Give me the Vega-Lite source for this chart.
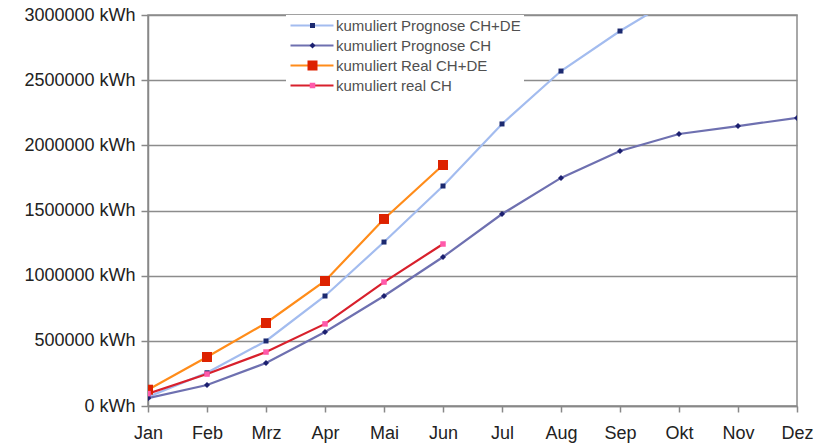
{
  "$schema": "https://vega.github.io/schema/vega-lite/v6.json",
  "width": 649,
  "height": 391,
  "autosize": {"type": "none"},
  "padding": {"left": 148, "top": 15, "right": 19, "bottom": 41},
  "background": "white",
  "config": {
    "view": {"stroke": "#8c8c8c", "strokeWidth": 1.5},
    "axis": {"labelFont": "Liberation Sans", "labelFontSize": 18, "labelColor": "#222", "domainColor": "#888", "tickColor": "#888", "domainWidth": 1.5, "tickWidth": 1.5}
  },
  "data": {
    "values": [
      {"month": "Jan", "series": "kumuliert Prognose CH+DE", "value": 70000},
      {"month": "Feb", "series": "kumuliert Prognose CH+DE", "value": 255000},
      {"month": "Mrz", "series": "kumuliert Prognose CH+DE", "value": 499000},
      {"month": "Apr", "series": "kumuliert Prognose CH+DE", "value": 844000},
      {"month": "Mai", "series": "kumuliert Prognose CH+DE", "value": 1258000},
      {"month": "Jun", "series": "kumuliert Prognose CH+DE", "value": 1688000},
      {"month": "Jul", "series": "kumuliert Prognose CH+DE", "value": 2164000},
      {"month": "Aug", "series": "kumuliert Prognose CH+DE", "value": 2570000},
      {"month": "Sep", "series": "kumuliert Prognose CH+DE", "value": 2877000},
      {"month": "Okt", "series": "kumuliert Prognose CH+DE", "value": 3150000},
      {"month": "Jan", "series": "kumuliert Prognose CH", "value": 60000},
      {"month": "Feb", "series": "kumuliert Prognose CH", "value": 161000},
      {"month": "Mrz", "series": "kumuliert Prognose CH", "value": 330000},
      {"month": "Apr", "series": "kumuliert Prognose CH", "value": 568000},
      {"month": "Mai", "series": "kumuliert Prognose CH", "value": 844000},
      {"month": "Jun", "series": "kumuliert Prognose CH", "value": 1143000},
      {"month": "Jul", "series": "kumuliert Prognose CH", "value": 1473000},
      {"month": "Aug", "series": "kumuliert Prognose CH", "value": 1750000},
      {"month": "Sep", "series": "kumuliert Prognose CH", "value": 1957000},
      {"month": "Okt", "series": "kumuliert Prognose CH", "value": 2087000},
      {"month": "Nov", "series": "kumuliert Prognose CH", "value": 2148000},
      {"month": "Dez", "series": "kumuliert Prognose CH", "value": 2210000},
      {"month": "Jan", "series": "kumuliert Real CH+DE", "value": 125000},
      {"month": "Feb", "series": "kumuliert Real CH+DE", "value": 376000},
      {"month": "Mrz", "series": "kumuliert Real CH+DE", "value": 637000},
      {"month": "Apr", "series": "kumuliert Real CH+DE", "value": 959000},
      {"month": "Mai", "series": "kumuliert Real CH+DE", "value": 1435000},
      {"month": "Jun", "series": "kumuliert Real CH+DE", "value": 1849000},
      {"month": "Jan", "series": "kumuliert real CH", "value": 95000},
      {"month": "Feb", "series": "kumuliert real CH", "value": 245000},
      {"month": "Mrz", "series": "kumuliert real CH", "value": 414000},
      {"month": "Apr", "series": "kumuliert real CH", "value": 630000},
      {"month": "Mai", "series": "kumuliert real CH", "value": 951000},
      {"month": "Jun", "series": "kumuliert real CH", "value": 1243000}
    ]
  },
  "encoding": {
    "x": {"field": "month", "type": "ordinal", "sort": ["Jan","Feb","Mrz","Apr","Mai","Jun","Jul","Aug","Sep","Okt","Nov","Dez"],
      "scale": {"type": "point", "padding": 0},
      "axis": {"title": null, "labelAngle": 0, "tickSize": 6, "labelPadding": 12, "grid": false}},
    "y": {"field": "value", "type": "quantitative",
      "scale": {"domain": [0, 3000000], "nice": false},
      "axis": {"title": null, "values": [0,500000,1000000,1500000,2000000,2500000,3000000], "format": "d", "labelExpr": "datum.label + ' kWh'",
        "tickSize": 7, "labelPadding": 6, "grid": true, "gridColor": "#8c8c8c", "gridWidth": 1.5}}
  },
  "layer": [
    {
      "mark": {"type": "line", "strokeWidth": 2.2, "clip": true},
      "encoding": {
        "color": {"field": "series", "type": "nominal", "sort": ["kumuliert Prognose CH+DE","kumuliert Prognose CH","kumuliert Real CH+DE","kumuliert real CH"],
          "scale": {"range": ["#a3bcef","#6e70b0","#ff8c1a","#d8202c"]},
          "legend": {"title": null, "orient": "none", "legendX": 138, "legendY": 0, "padding": 3, "fillColor": "white",
            "symbolType": "stroke", "symbolSize": 1849, "symbolStrokeWidth": 2.2, "rowPadding": 4, "clipHeight": 15,
            "labelFont": "Liberation Sans", "labelFontSize": 15, "labelColor": "#505050", "labelOffset": 1, "labelLimit": 400}}
      }
    },
    {
      "mark": {"type": "point", "filled": true, "opacity": 1, "strokeWidth": 0, "size": 100, "clip": true},
      "encoding": {
        "fill": {"field": "series", "type": "nominal",
          "scale": {"domain": ["kumuliert Prognose CH+DE","kumuliert Prognose CH","kumuliert Real CH+DE","kumuliert real CH"], "range": ["#1c2a70","#1c2070","#dd2200","#ff5aaa"]},
          "legend": {"title": null, "orient": "none", "legendX": 138, "legendY": 0, "padding": 3, "labelExpr": "''", "symbolOffset": 16, "rowPadding": 4, "clipHeight": 15,
            "labelFontSize": 15, "labelFont": "Liberation Sans", "symbolStrokeWidth": 0, "symbolSize": 100}},
        "shape": {"field": "series", "type": "nominal",
          "scale": {"domain": ["kumuliert Prognose CH+DE","kumuliert Prognose CH","kumuliert Real CH+DE","kumuliert real CH"], "range": ["M-0.5,-0.5H0.5V0.5H-0.5Z", "M0,-0.6L0.6,0L0,0.6L-0.6,0Z", "M-1,-1H1V1H-1Z", "M-0.55,-0.55H0.55V0.55H-0.55Z"]},
          "legend": {"title": null, "orient": "none", "legendX": 138, "legendY": 0, "padding": 3, "labelExpr": "''", "symbolOffset": 16, "rowPadding": 4, "clipHeight": 15,
            "labelFontSize": 15, "labelFont": "Liberation Sans", "symbolStrokeWidth": 0, "symbolSize": 100}}
      }
    }
  ]
}
